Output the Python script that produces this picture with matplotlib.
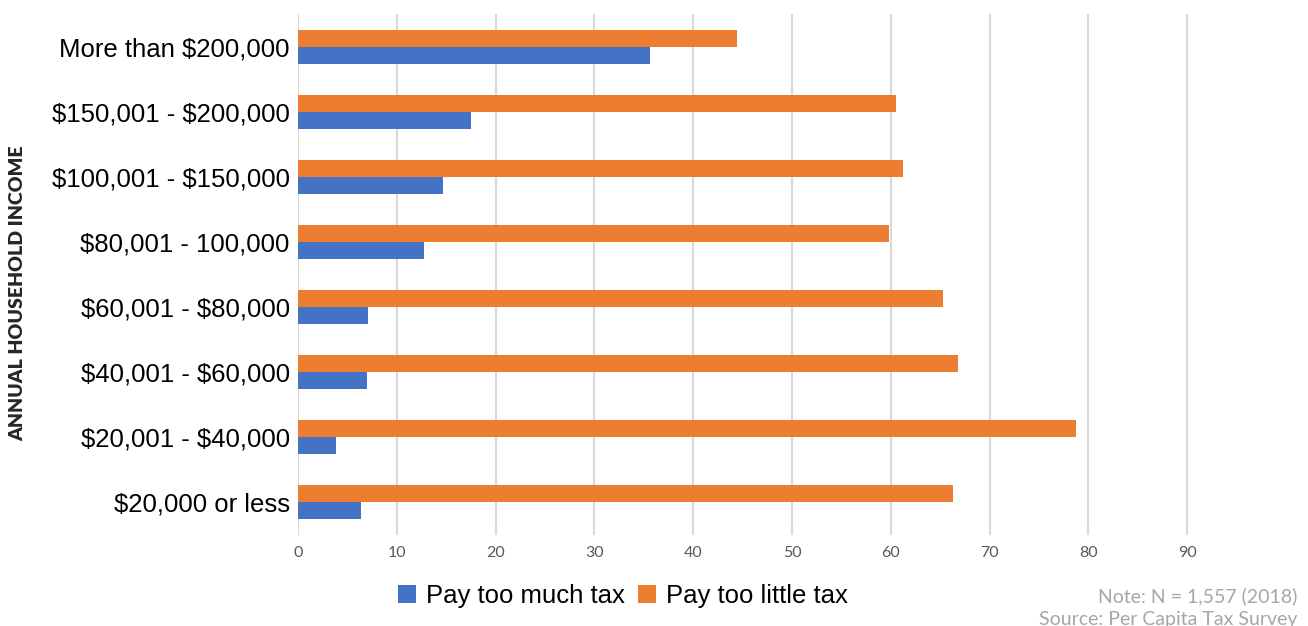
import matplotlib
import matplotlib.pyplot as plt
import numpy as np

matplotlib.use("Agg")
plt.rcParams["text.parse_math"] = False

categories = [
    "More than $200,000",
    "$150,001 - $200,000",
    "$100,001 - $150,000",
    "$80,001 - 100,000",
    "$60,001 - $80,000",
    "$40,001 - $60,000",
    "$20,001 - $40,000",
    "$20,000 or less",
]
too_much = [35.6, 17.5, 14.7, 12.8, 7.1, 7.0, 3.9, 6.4]
too_little = [44.4, 60.5, 61.2, 59.8, 65.3, 66.8, 78.7, 66.3]
x_ticks = [0, 10, 20, 30, 40, 50, 60, 70, 80, 90]

BLUE = "#4472C4"
ORANGE = "#ED7D31"

fig = plt.figure(figsize=(13.08, 6.26), dpi=100, facecolor="white")
ax = fig.add_axes([0.2278, 0.1454, 0.7554, 0.8322])

y = np.arange(len(categories))
h = 0.26
ax.barh(y - h / 2, too_little, height=h, color=ORANGE, zorder=3, label="Pay too little tax")
ax.barh(y + h / 2, too_much, height=h, color=BLUE, zorder=3, label="Pay too much tax")

ax.set_xlim(0, 100)
ax.set_ylim(len(categories) - 0.5, -0.5)
ax.set_xticks(x_ticks)
ax.set_xticklabels([str(t) for t in x_ticks], fontsize=11.5, color="#595959", family="Lato")
ax.set_yticks(y)
ax.set_yticklabels(categories, fontsize=18.5, color="black", family="Liberation Sans")
ax.tick_params(axis="both", length=0)
ax.tick_params(axis="y", pad=6)
ax.tick_params(axis="x", pad=8)

for t in x_ticks:
    ax.axvline(t, color="#D9D9D9", linewidth=1.5, zorder=1)

for side in ["top", "right", "bottom", "left"]:
    ax.spines[side].set_visible(False)

fig.text(18 / 1308, 1 - 293.5 / 626, "ANNUAL HOUSEHOLD INCOME", rotation=90,
         ha="center", va="center", fontsize=14, fontweight="heavy",
         family="Lato", color="#262626")

handles, labels = ax.get_legend_handles_labels()
fig.legend(handles[::-1], labels[::-1], loc="center", bbox_to_anchor=(0.476, 0.048),
           ncol=2, frameon=False, prop={"family": "Liberation Sans", "size": 18.5},
           handlelength=0.7, handleheight=0.7, handletextpad=0.4, columnspacing=0.5)

fig.text(1297 / 1308, 1 - 596 / 626, "Note: N = 1,557 (2018)", ha="right", va="center",
         fontsize=14, color="#A6A6A6", family="Lato")
fig.text(1297 / 1308, 1 - 619 / 626, "Source: Per Capita Tax Survey", ha="right", va="center",
         fontsize=14, color="#A6A6A6", family="Lato")

fig.savefig("out.png", dpi=100, facecolor="white")
